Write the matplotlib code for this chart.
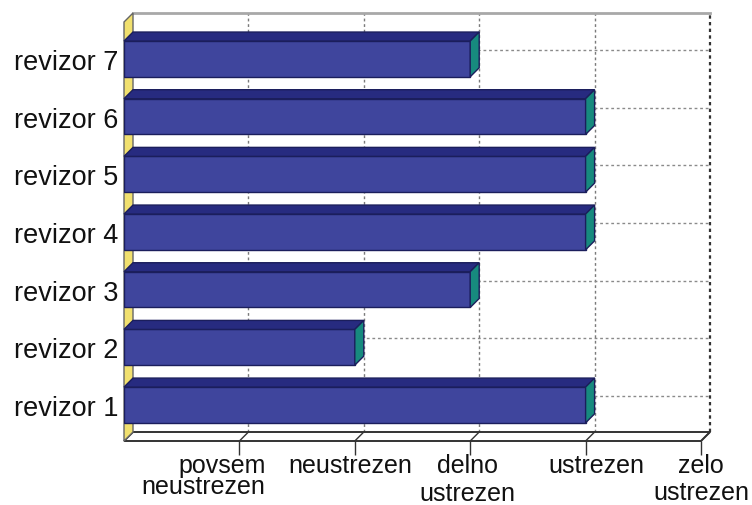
import matplotlib.pyplot as plt
from matplotlib.patches import Polygon

plt.rcParams['font.family'] = ['Liberation Sans', 'DejaVu Sans']

revizorji = ['revizor 1', 'revizor 2', 'revizor 3', 'revizor 4',
             'revizor 5', 'revizor 6', 'revizor 7']
ocene = [4, 2, 3, 4, 4, 4, 3]
lestvica = ['povsem\nneustrezen', 'neustrezen', 'delno\nustrezen',
            'ustrezen', 'zelo\nustrezen']

# per-label tweaks (pixel offset, alignment, line spacing)
lbl_dx = [26, -5, -3, 11, 0]
lbl_ha = ['right', 'center', 'center', 'center', 'center']
lbl_ls = [0.85, 1.0, 1.22, 1.0, 1.18]

c_front = '#3f459d'
c_top = '#272b80'
c_side = '#178a7e'
c_edge = '#1b1e5c'
c_wall = '#f1e06e'
c_text = '#111111'

fig = plt.figure(figsize=(7.52, 5.06), dpi=100)
W, H = 752, 506
ax = fig.add_axes([124 / W, (H - 442) / H, (701 - 124) / W, (442 - 23) / H])
xlo, xhi = 0, 5
ylo, yhi = -0.625, 6.64
ax.set_xlim(xlo, xhi)
ax.set_ylim(ylo, yhi)

# depth of the fake 3d box, 9 px converted to data units
p0 = ax.transData.transform((0, 0))
p1 = ax.transData.transform((1, 1))
dx = 9 / (p1[0] - p0[0])
dy = 9 / (p1[1] - p0[1])

# back wall: grid and edges
for x in range(1, 5):
    ax.plot([x + dx, x + dx], [ylo + dy, yhi + dy], color='#7a7a7a', lw=1,
            ls=(0, (2, 2)), clip_on=False, zorder=1)
for i in range(len(revizorji)):
    ax.plot([dx, xhi + dx], [i + dy, i + dy], color='#8a8a8a', lw=1,
            ls=(0, (2, 2)), clip_on=False, zorder=1)
ax.plot([dx, xhi + dx], [yhi + dy, yhi + dy], color='#a8a8a8', lw=2,
        clip_on=False, zorder=1)
ax.plot([xhi + dx, xhi + dx], [ylo + dy, yhi + dy], color='#333333', lw=1.6,
        ls=(0, (1.5, 1.5)), clip_on=False, zorder=1)

# floor
floor = Polygon([(xlo, ylo), (xhi, ylo), (xhi + dx, ylo + dy), (xlo + dx, ylo + dy)],
                closed=True, facecolor='white', edgecolor='#333333', lw=1.4,
                clip_on=False, zorder=1.5)
ax.add_patch(floor)
for x in range(1, 6):
    ax.plot([x + dx, x], [ylo + dy, ylo], color='#333333', lw=1,
            clip_on=False, zorder=1.6)

# left wall
wall = Polygon([(xlo, ylo), (xlo + dx, ylo + dy), (xlo + dx, yhi + dy), (xlo, yhi)],
               closed=True, facecolor=c_wall, edgecolor='#666666', lw=1,
               clip_on=False, zorder=1.7)
ax.add_patch(wall)

# bars
h = 0.62
ax.barh(range(len(ocene)), ocene, height=h, color=c_front, edgecolor=c_edge,
        lw=1, zorder=3)
for i, v in enumerate(ocene):
    t = i + h / 2
    b = i - h / 2
    ax.add_patch(Polygon([(0, t), (v, t), (v + dx, t + dy), (dx, t + dy)],
                         closed=True, facecolor=c_top, edgecolor=c_edge, lw=1,
                         clip_on=False, zorder=3))
    ax.add_patch(Polygon([(v, b), (v + dx, b + dy), (v + dx, t + dy), (v, t)],
                         closed=True, facecolor=c_side, edgecolor=c_edge, lw=1,
                         clip_on=False, zorder=3))

for s in ax.spines.values():
    s.set_visible(False)

ax.set_yticks(range(len(revizorji)), revizorji, fontsize=19.5, color=c_text)
ax.tick_params(axis='y', length=0, pad=4)

ax.set_xticks(range(1, 6))
ax.set_xticklabels([])
ax.tick_params(axis='x', direction='out', length=10, width=1, color='#333333')
for k, lab in enumerate(lestvica):
    ax.annotate(lab, xy=(k + 1, 0), xycoords=ax.get_xaxis_transform(),
                xytext=(lbl_dx[k], -12), textcoords='offset pixels',
                ha=lbl_ha[k], va='top', multialignment=lbl_ha[k],
                linespacing=lbl_ls[k], fontsize=18, color=c_text,
                annotation_clip=False)

fig.savefig('out.png', dpi=100)
